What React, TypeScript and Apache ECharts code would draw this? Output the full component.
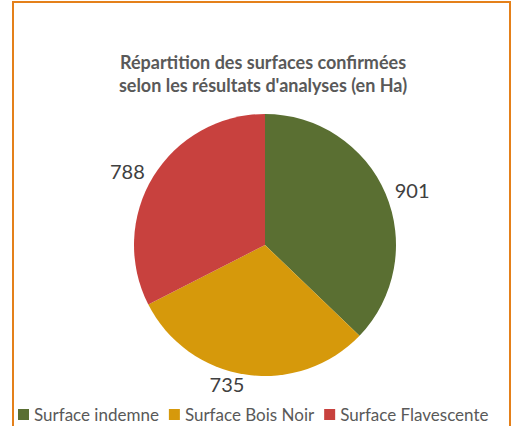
import React, { useEffect, useRef } from "react";
import * as echarts from "echarts";

const categories = ["Surface indemne", "Surface Bois Noir", "Surface Flavescente"];
const values = [901, 735, 788];
const colors = ["#5A6F32", "#D6990B", "#C8413E"];
const titleText = "Répartition des surfaces confirmées\nselon les résultats d'analyses (en Ha)";

export default function App() {
  const ref = useRef<HTMLDivElement>(null);
  useEffect(() => {
    if (!ref.current) return;
    const chart = echarts.init(ref.current, null, { renderer: "svg" });
    chart.setOption({
      animation: false,
      backgroundColor: "#ffffff",
      title: {
        text: titleText,
        left: 258,
        textAlign: "center",
        top: 45,
        textStyle: {
          fontFamily: "Lato",
          fontWeight: "bold",
          fontSize: 18,
          color: "#595959",
          lineHeight: 23,
        },
      },
      graphic: [
        {
          type: "rect",
          shape: { x: 13, y: 2, width: 497, height: 440 },
          style: { fill: "none", stroke: "#E4801A", lineWidth: 2 },
          silent: true,
        },
      ],
      legend: {
        left: 13,
        top: 401,
        icon: "rect",
        itemWidth: 11,
        itemHeight: 11,
        itemGap: 10,
        textStyle: { fontFamily: "Lato", fontSize: 17, color: "#595959", padding: [0, 0, 0, 0] },
        data: categories,
      },
      series: [
        {
          type: "pie",
          center: [265, 245],
          radius: [0, 131],
          startAngle: 90,
          clockwise: true,
          color: colors,
          data: categories.map((name, i) => ({ name, value: values[i] })),
          label: {
            show: true,
            position: "outside",
            formatter: "{c}",
            fontFamily: "Lato",
            fontSize: 20,
            color: "#404040",
            distanceToLabelLine: 0,
          },
          labelLine: { show: false, length: 10, length2: 0 },
          emphasis: { disabled: true },
        },
      ],
    });
    return () => chart.dispose();
  }, []);
  return (
    <div
      ref={ref}
      style={{ position: "absolute", left: 0, top: 0, width: 516, height: 426 }}
    />
  );
}
